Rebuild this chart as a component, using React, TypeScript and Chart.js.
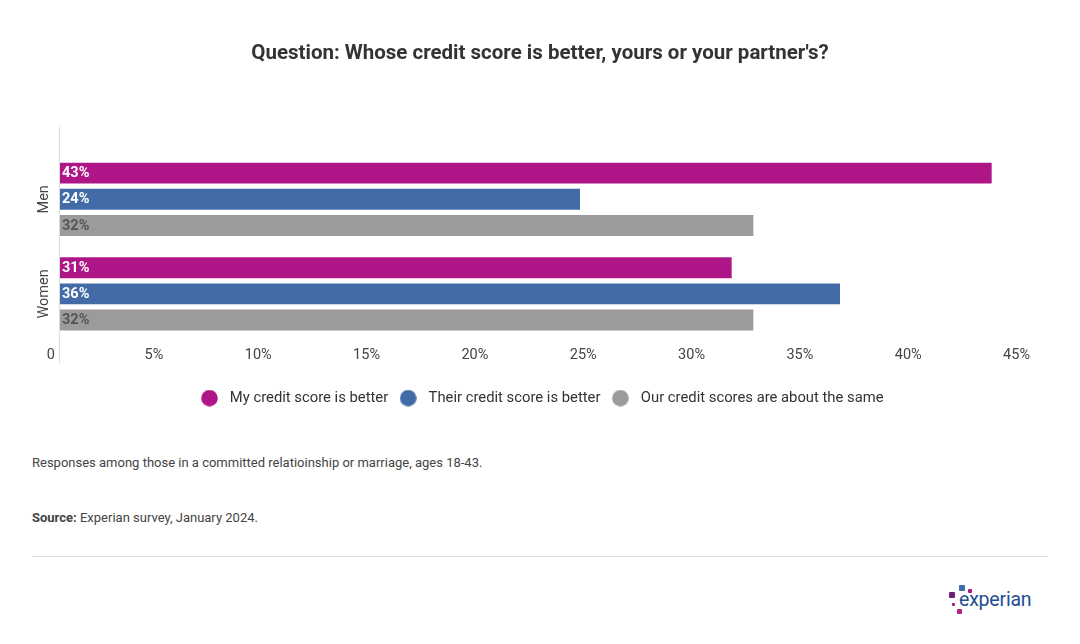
import React, { useEffect, useRef } from "react";
import { Chart, registerables } from "chart.js";

Chart.register(...registerables);

const categories = ["Men", "Women"];
const seriesNames = [
  "My credit score is better",
  "Their credit score is better",
  "Our credit scores are about the same",
];
const myBetter = [43, 31];
const theirBetter = [24, 36];
const aboutSame = [32, 32];
const seriesColors = ["#AE1586", "#426BA8", "#9B9B9B"];
const labelColors = ["#FFFFFF", "#FFFFFF", "#555555"];
const xTickLabels = ["0", "5%", "10%", "15%", "20%", "25%", "30%", "35%", "40%", "45%"];

const FONT = "Roboto";

function circleCanvas(color: string) {
  const c = document.createElement("canvas");
  c.width = 17;
  c.height = 17;
  const ctx = c.getContext("2d")!;
  ctx.fillStyle = color;
  ctx.beginPath();
  ctx.arc(8.5, 8.5, 8.3, 0, Math.PI * 2);
  ctx.fill();
  return c;
}

const axisLinePlugin = {
  id: "axisLine",
  beforeDatasetsDraw(chart: any) {
    const { ctx, chartArea } = chart;
    ctx.save();
    ctx.strokeStyle = "#dcdcdc";
    ctx.lineWidth = 1;
    ctx.beginPath();
    ctx.moveTo(chartArea.left - 0.5, chartArea.top - 25);
    ctx.lineTo(chartArea.left - 0.5, chartArea.bottom + 22);
    ctx.stroke();
    ctx.restore();
  },
};

const categoryLabelPlugin = {
  id: "categoryLabels",
  afterDraw(chart: any) {
    const { ctx, chartArea } = chart;
    const yScale = chart.scales.y;
    ctx.save();
    ctx.font = `14.5px ${FONT}`;
    ctx.fillStyle = "#444";
    ctx.textAlign = "center";
    ctx.textBaseline = "middle";
    categories.forEach((cat, i) => {
      const y = yScale.getPixelForValue(i);
      ctx.save();
      ctx.translate(chartArea.left - 16, y);
      ctx.rotate(-Math.PI / 2);
      ctx.fillText(cat, 0, 0);
      ctx.restore();
    });
    ctx.restore();
  },
};

const valueLabelPlugin = {
  id: "valueLabels",
  afterDatasetsDraw(chart: any) {
    const { ctx } = chart;
    ctx.save();
    ctx.font = `bold 14.5px ${FONT}`;
    ctx.textAlign = "left";
    ctx.textBaseline = "middle";
    chart.data.datasets.forEach((ds: any, di: number) => {
      const meta = chart.getDatasetMeta(di);
      ctx.fillStyle = labelColors[di];
      meta.data.forEach((bar: any, i: number) => {
        ctx.fillText(`${ds.data[i]}%`, bar.base + 2, bar.y + 0.5);
      });
    });
    ctx.restore();
  },
};

export default function App() {
  const canvasRef = useRef<HTMLCanvasElement | null>(null);

  useEffect(() => {
    if (!canvasRef.current) return;
    const seriesData = [myBetter, theirBetter, aboutSame];
    const chart = new Chart(canvasRef.current, {
      type: "bar",
      data: {
        labels: categories,
        datasets: seriesNames.map((name, i) => ({
          label: name,
          data: seriesData[i],
          backgroundColor: seriesColors[i],
          borderWidth: 0,
          categoryPercentage: 0.83,
          barPercentage: 0.8,
          xAxisID: "x",
          yAxisID: "y",
        })),
      },
      options: {
        indexAxis: "y",
        responsive: false,
        animation: false,
        maintainAspectRatio: false,
        layout: { padding: { left: 0, right: 0, top: 0, bottom: 4.5 } },
        scales: {
          x: {
            min: 0,
            max: 45,
            grid: { display: false, drawTicks: false },
            border: { display: false },
            ticks: {
              stepSize: 5,
              align: "end",
              labelOffset: -5,
              padding: 5.3,
              color: "#444",
              font: { family: FONT, size: 14.5 },
              callback: (_v: any, i: number) => xTickLabels[i],
            },
            afterFit: (scale: any) => {
              scale.height = 42.5;
            },
          },
          y: {
            type: "category",
            position: "left",
            grid: { display: false, drawTicks: false },
            border: { display: false },
            ticks: { display: false },
            afterFit: (scale: any) => {
              scale.width = 60;
            },
          },
          yRight: {
            type: "category",
            position: "right",
            grid: { display: false, drawTicks: false },
            border: { display: false },
            ticks: { display: false },
            afterFit: (scale: any) => {
              scale.width = 45;
            },
          },
        },
        plugins: {
          title: {
            display: true,
            text: "Question: Whose credit score is better, yours or your partner's?",
            color: "#333",
            font: { family: FONT, size: 20.5, weight: "bold" },
            padding: { top: 42, bottom: 85.4 },
          },
          legend: {
            position: "bottom",
            labels: {
              usePointStyle: true,
              pointStyleWidth: 26,
              boxHeight: 15,
              padding: 7,
              color: "#333",
              font: { family: FONT, size: 14.8 },
              generateLabels: (ch: any) => {
                const items = (Chart.defaults.plugins.legend.labels as any).generateLabels(ch);
                return items.map((it: any, i: number) => ({
                  ...it,
                  pointStyle: circleCanvas(seriesColors[i]),
                }));
              },
            },
          },
          tooltip: { enabled: false },
        },
      } as any,
      plugins: [axisLinePlugin, categoryLabelPlugin, valueLabelPlugin],
    });
    return () => chart.destroy();
  }, []);

  const sq = (left: number, top: number, size: number, color: string) => (
    <div
      style={{
        position: "absolute",
        left,
        top,
        width: size,
        height: size,
        background: color,
        borderRadius: 1,
      }}
    />
  );

  return (
    <div
      style={{
        position: "fixed",
        left: 0,
        top: 0,
        width: 1080,
        height: 644,
        background: "#fff",
        fontFamily: FONT,
      }}
    >
      <canvas
        ref={canvasRef}
        width={1080}
        height={420}
        style={{ position: "absolute", left: 0, top: 0, width: 1080, height: 420 }}
      />
      <div
        style={{
          position: "absolute",
          left: 32,
          top: 455,
          fontSize: 13,
          lineHeight: "16px",
          color: "#444",
        }}
      >
        Responses among those in a committed relatioinship or marriage, ages 18-43.
      </div>
      <div
        style={{
          position: "absolute",
          left: 32,
          top: 510,
          fontSize: 13,
          lineHeight: "16px",
          color: "#444",
        }}
      >
        <b>Source:</b> Experian survey, January 2024.
      </div>
      <div
        style={{
          position: "absolute",
          left: 32,
          top: 556,
          width: 1016,
          height: 1,
          background: "#e0e0e0",
        }}
      />
      {sq(959, 585, 6, "#426DA9")}
      {sq(949, 592, 6, "#6D2077")}
      {sq(968, 589, 4, "#AF1685")}
      {sq(952, 603, 3, "#AF1685")}
      {sq(957, 609, 5, "#B12384")}
      <div
        style={{
          position: "absolute",
          left: 959,
          top: 589,
          fontSize: 19.5,
          lineHeight: "22px",
          color: "#1D4F91",
          fontWeight: 400,
          letterSpacing: -0.2,
        }}
      >
        experian<span style={{ fontSize: 5, color: "#1D4F91" }}>.</span>
      </div>
    </div>
  );
}
